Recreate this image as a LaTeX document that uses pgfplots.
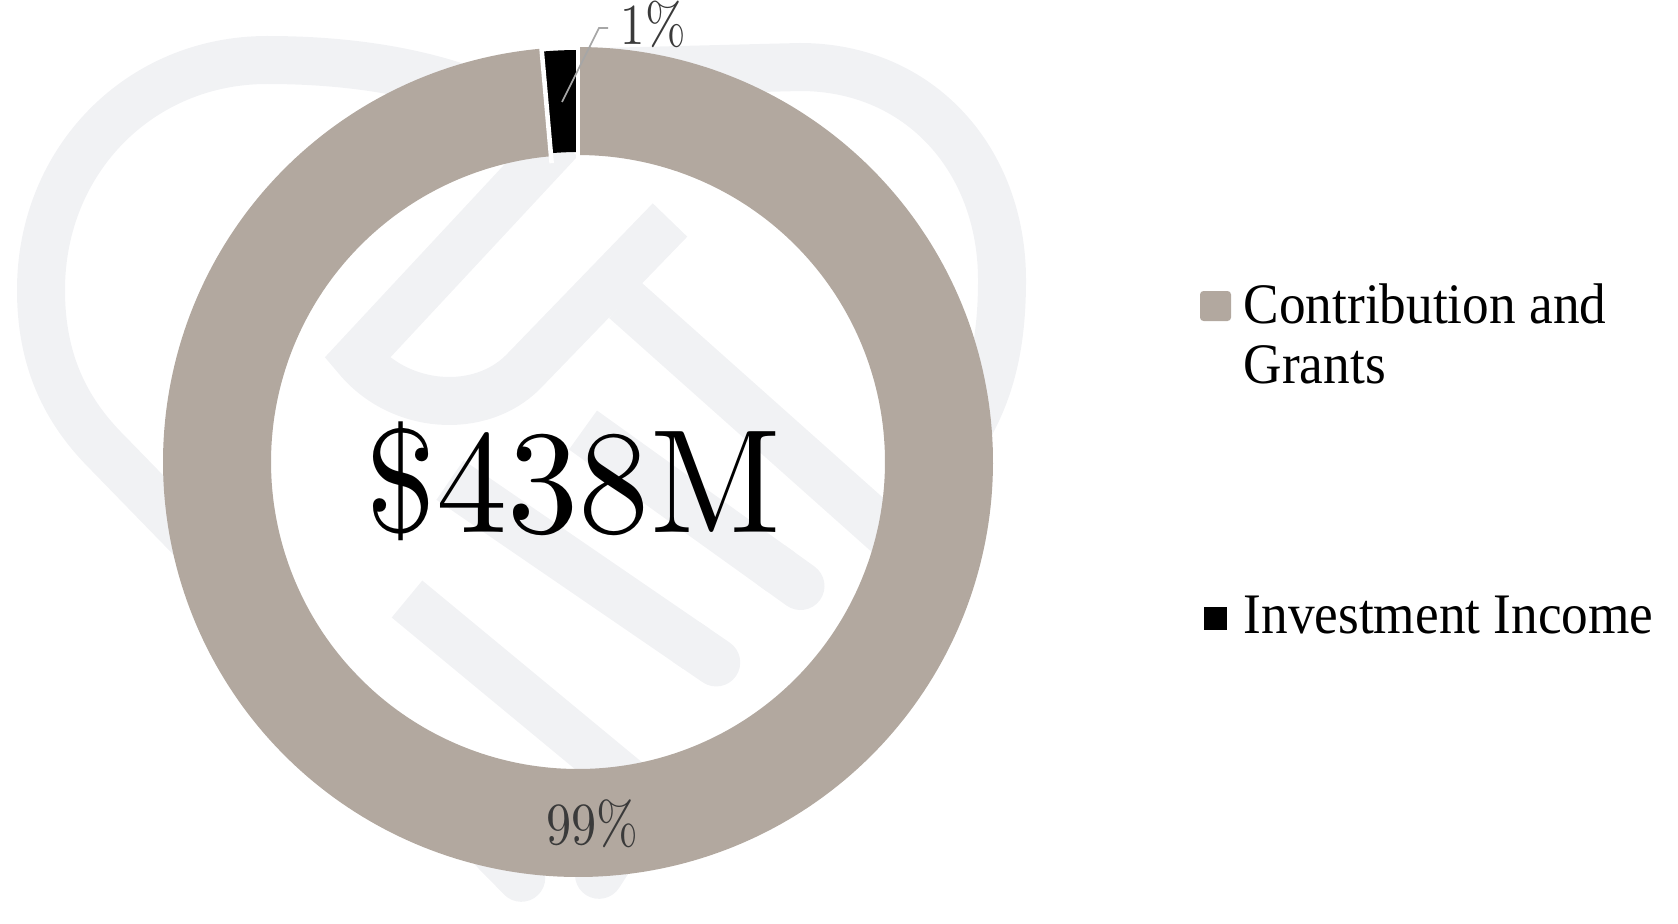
\documentclass[border=0pt]{standalone}
\usepackage{pgfplots}
\pgfplotsset{compat=1.18}
\usepackage{pgfplotstable}
\usepackage{fontspec}
\usetikzlibrary{arrows.meta}
\newfontfamily\legendfont{Liberation Serif}
\newfontfamily\lmten{lmroman10-regular.otf}
\definecolor{donut}{HTML}{B2A89F}
\definecolor{wm}{HTML}{F1F2F4}
\definecolor{lbl}{HTML}{3A3A3A}
\definecolor{leader}{HTML}{A6A6A6}

\pgfplotstableread{
category share
Contribution 98.6
Investment 1.4
}\donutdata

\begin{document}%
\begin{tikzpicture}
\pgfplotstablegetelem{0}{share}\of\donutdata\let\shareA\pgfplotsretval
\pgfplotstablegetelem{1}{share}\of\donutdata\let\shareB\pgfplotsretval
\pgfmathsetmacro{\aB}{90+3.6*\shareB}
\pgfmathsetmacro{\aAend}{\aB+3.6*\shareA}
\begin{axis}[width=16.78cm,height=9.23cm,scale only axis,
  xmin=0,xmax=1678,ymin=0,ymax=923,y dir=reverse,hide axis,clip=false]
% faint watermark logo
\begin{scope}[color=wm, line width=0.48cm]
\draw[-{Round Cap}] (540,125) .. controls (460,75) and (360,60) .. (267,60)
   .. controls (140,60) and (41,160) .. (41,290)
   .. controls (41,360) and (65,410) .. (107,452) -- (538,895);
\draw (600,72) -- (800,67) .. controls (920,67) and (1002,160) .. (1002,280)
   .. controls (1002,360) and (985,420) .. (930,480) -- (900,545) -- (625,300);
\draw (560,140) -- (357,358) .. controls (400,410) and (480,415) .. (523,372) -- (670,220);
\draw[-{Round Cap}] (583,430) -- (820,600);
\draw[-{Round Cap}] (450,480) -- (736,676);
\draw (407,599) -- (650,800);
\draw[-{Round Cap}] (660,780) -- (586,895);
\end{scope}
% donut slices
\addplot[donut, line width=1.08cm, domain=\aB:\aAend, samples=300, variable=\t, no marks]
  ({578+361*cos(\t)},{462-361*sin(\t)});
\addplot[black, line width=1.02cm, domain=90:\aB, samples=10, variable=\t, no marks]
  ({578+361*cos(\t)},{462-361*sin(\t)});
\draw[white, line width=1.3pt] ({578+300*cos(90)},{462-300*sin(90)}) -- ({578+420*cos(90)},{462-420*sin(90)});
\draw[white, line width=1.3pt] ({578+300*cos(\aB)},{462-300*sin(\aB)}) -- ({578+420*cos(\aB)},{462-420*sin(\aB)});
% leader and labels
\draw[leader, line width=0.5pt] (562,102) -- (599,28) -- (608,28);
\node[anchor=base west, inner sep=0, text=lbl] at (620,45)
  {\scalebox{0.84}[1]{\lmten\fontsize{16.5}{16.5}\selectfont 1\%}};
\node[anchor=base, inner sep=0, text=lbl] at (592,844)
  {\scalebox{0.84}[1]{\lmten\fontsize{17}{17}\selectfont 99\%}};
\node[anchor=base, inner sep=0] at (573,532)
  {\scalebox{0.965}[1]{\lmten\fontsize{42}{42}\selectfont \$438M}};
% legend
\fill[donut, rounded corners=1pt] (1200,291) rectangle (1231,321);
\node[anchor=base west, inner sep=0] at (1243,323)
  {\scalebox{0.93}[1]{\legendfont\fontsize{16.3}{16.3}\selectfont Contribution and}};
\node[anchor=base west, inner sep=0] at (1243,383)
  {\scalebox{0.93}[1]{\legendfont\fontsize{16.3}{16.3}\selectfont Grants}};
\fill[black] (1204,607) rectangle (1227,630);
\node[anchor=base west, inner sep=0] at (1243,633)
  {\scalebox{0.93}[1]{\legendfont\fontsize{16.3}{16.3}\selectfont Investment Income}};
\end{axis}
\pgfresetboundingbox
\useasboundingbox (current axis.south west) rectangle (current axis.north east);
\end{tikzpicture}%
\end{document}
